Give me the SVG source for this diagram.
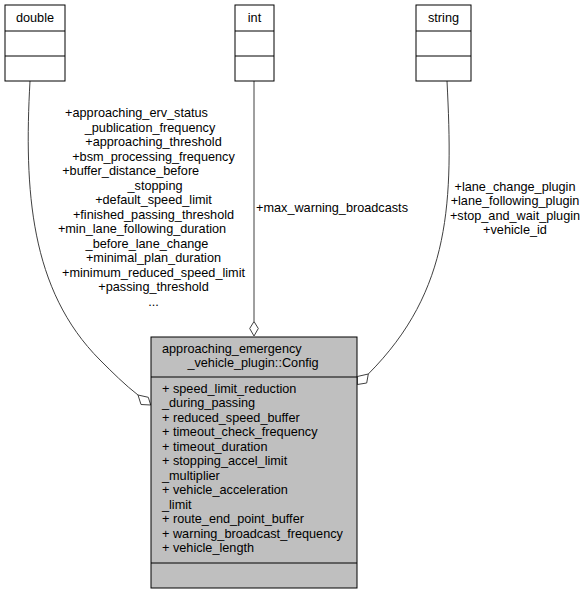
<svg xmlns="http://www.w3.org/2000/svg" width="587" height="595" viewBox="0 0 587 595">
<style>
text{font-family:"Liberation Sans",Arial,Helvetica,sans-serif;font-size:12.7px;fill:#000}
.m{text-anchor:middle}
.box{fill:#fff;stroke:#000;stroke-width:1}
.main{fill:#bfbfbf;stroke:#000;stroke-width:1}
.edge{fill:none;stroke:#404040;stroke-width:1}
.dia{fill:#fff;stroke:#404040;stroke-width:1}
</style>
<rect width="587" height="595" fill="#fff"/>
<g id="connectors">
<path class="edge" d="M30,81 C24,190 30,290 100,360 C112,372 125,385 138,395"/>
<polygon class="dia" points="138,395 148.3,397.3 150.7,405 141,404.5"/>
<path class="edge" d="M254,81 L254,321.5"/>
<polygon class="dia" points="254,321.5 258.3,328.5 254,336 249.7,328.5"/>
<path class="edge" d="M447,81 C453,200 452,290 368.3,374"/>
<polygon class="dia" points="368.3,374 357.3,376.5 357.3,384.5 366.7,383"/>
<g id="label-double">
<text class="m" x="136.5" y="117">+approaching_erv_status</text>
<text class="m" x="150" y="131.5">_publication_frequency</text>
<text class="m" x="153.5" y="146">+approaching_threshold</text>
<text class="m" x="153.5" y="160.5">+bsm_processing_frequency</text>
<text class="m" x="130.7" y="175">+buffer_distance_before</text>
<text class="m" x="155" y="189.5">_stopping</text>
<text class="m" x="153.5" y="204">+default_speed_limit</text>
<text class="m" x="153.5" y="218.5">+finished_passing_threshold</text>
<text class="m" x="142" y="233">+min_lane_following_duration</text>
<text class="m" x="147" y="247.5">_before_lane_change</text>
<text class="m" x="153.5" y="262">+minimal_plan_duration</text>
<text class="m" x="153.5" y="276.5">+minimum_reduced_speed_limit</text>
<text class="m" x="153.5" y="291">+passing_threshold</text>
<text class="m" x="153.5" y="305.5">...</text>
</g>
<text id="label-int" x="256" y="212">+max_warning_broadcasts</text>
<g id="label-string">
<text class="m" x="515" y="190.5">+lane_change_plugin</text>
<text class="m" x="515" y="205">+lane_following_plugin</text>
<text class="m" x="515" y="219.5">+stop_and_wait_plugin</text>
<text class="m" x="515" y="234">+vehicle_id</text>
</g>
</g>
<g id="node-double">
<rect class="box" x="5" y="5" width="60" height="76"/>
<line class="box" x1="5" y1="31" x2="65" y2="31"/>
<line class="box" x1="5" y1="56" x2="65" y2="56"/>
<text class="m" x="35" y="22">double</text>
</g>
<g id="node-int">
<rect class="box" x="235" y="5" width="39" height="76"/>
<line class="box" x1="235" y1="31" x2="274" y2="31"/>
<line class="box" x1="235" y1="56" x2="274" y2="56"/>
<text class="m" x="254.5" y="22">int</text>
</g>
<g id="node-string">
<rect class="box" x="416" y="5" width="55" height="76"/>
<line class="box" x1="416" y1="31" x2="471" y2="31"/>
<line class="box" x1="416" y1="56" x2="471" y2="56"/>
<text class="m" x="443.5" y="22">string</text>
</g>
<g id="node-config">
<rect class="main" x="151" y="337" width="206" height="251"/>
<line class="main" x1="151" y1="377" x2="357" y2="377"/>
<line class="main" x1="151" y1="563" x2="357" y2="563"/>
<text x="162" y="352.5">approaching_emergency</text>
<text class="m" x="253" y="367">_vehicle_plugin::Config</text>
<text x="162" y="392.5">+ speed_limit_reduction</text>
<text x="162" y="407">_during_passing</text>
<text x="162" y="421.5">+ reduced_speed_buffer</text>
<text x="162" y="436">+ timeout_check_frequency</text>
<text x="162" y="450.5">+ timeout_duration</text>
<text x="162" y="465">+ stopping_accel_limit</text>
<text x="162" y="479.5">_multiplier</text>
<text x="162" y="494">+ vehicle_acceleration</text>
<text x="162" y="508.5">_limit</text>
<text x="162" y="523">+ route_end_point_buffer</text>
<text x="162" y="537.5">+ warning_broadcast_frequency</text>
<text x="162" y="552">+ vehicle_length</text>
</g>
</svg>
